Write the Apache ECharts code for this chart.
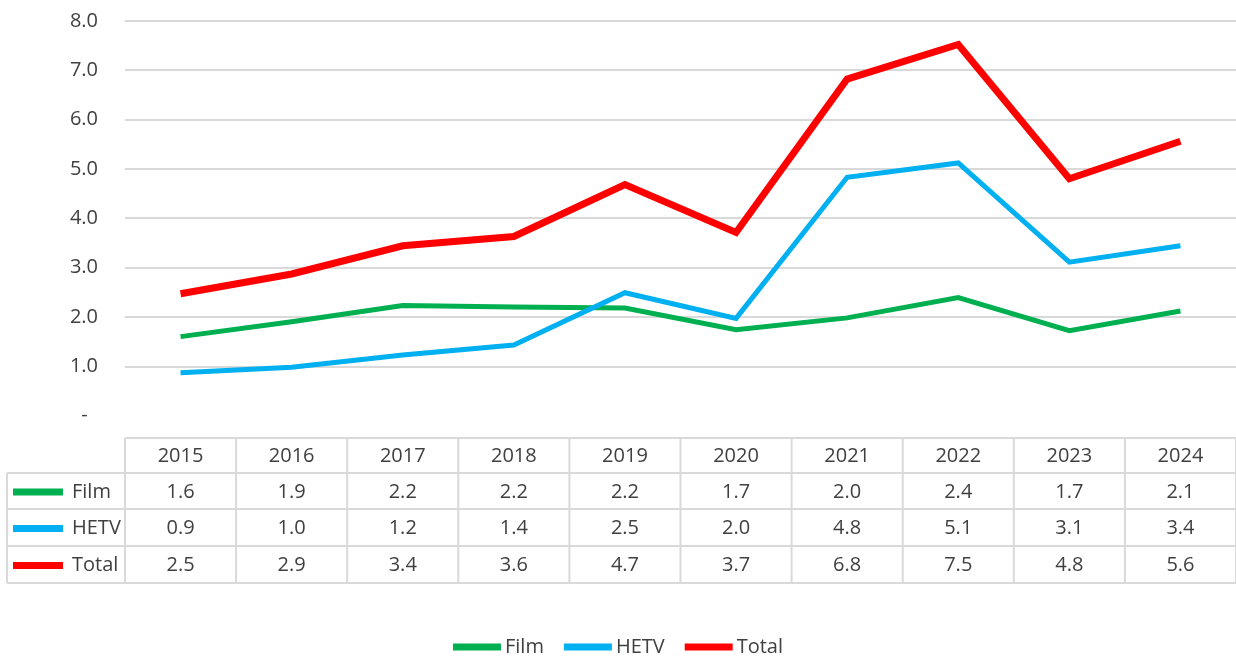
<!DOCTYPE html>
<html>
<head>
<meta charset="utf-8">
<script src="https://cdn.jsdelivr.net/npm/echarts@6/dist/echarts.min.js"></script>
<style>
  html, body { margin: 0; padding: 0; background: #ffffff; }
  #chart { width: 1236px; height: 657px; }
</style>
</head>
<body>
<div id="chart"></div>
<script>
// ---- Data ----
const years = ['2015', '2016', '2017', '2018', '2019', '2020', '2021', '2022', '2023', '2024'];
const film  = [1.60, 1.90, 2.23, 2.20, 2.18, 1.74, 1.98, 2.39, 1.72, 2.12];
const hetv  = [0.87, 0.98, 1.23, 1.43, 2.49, 1.97, 4.83, 5.12, 3.11, 3.44];
const total = [2.47, 2.87, 3.44, 3.63, 4.68, 3.71, 6.82, 7.52, 4.80, 5.56];
const yTicks = [0, 1, 2, 3, 4, 5, 6, 7, 8];

const seriesDefs = [
  { name: 'Film',  data: film,  color: '#00B050', width: 5 },
  { name: 'HETV',  data: hetv,  color: '#00B0F0', width: 5 },
  { name: 'Total', data: total, color: '#FF0000', width: 7 }
];

const FONT = '"Open Sans", "Noto Sans", sans-serif';
const FS = 20;
const TXT = '#404040';
const BORDER = '#d9d9d9';

const chart = echarts.init(document.getElementById('chart'), null, { renderer: 'canvas' });

chart.setOption({
  animation: false,
  backgroundColor: '#ffffff',
  textStyle: { fontFamily: FONT },
  grid: { left: 125, right: 0, top: 20.8, bottom: 241.4, containLabel: false },
  xAxis: {
    type: 'category',
    data: years,
    boundaryGap: true,
    axisLine: { show: false },
    axisTick: { show: false },
    axisLabel: { show: false },
    splitLine: { show: false }
  },
  yAxis: {
    type: 'value',
    min: yTicks[0],
    max: yTicks[yTicks.length - 1],
    interval: 1,
    axisLine: { show: false },
    axisTick: { show: false },
    axisLabel: {
      margin: 27,
      fontSize: FS,
      fontFamily: FONT,
      color: TXT,
      formatter: function (v) { return v === 0 ? '-  ' : v.toFixed(1); }
    },
    splitLine: { show: true, showMinLine: false, lineStyle: { color: BORDER, width: 2 } }
  },
  legend: {
    data: seriesDefs.map(s => s.name),
    left: 'center',
    top: 632,
    icon: 'rect',
    itemWidth: 48,
    itemHeight: 7,
    itemGap: 20,
    textStyle: { fontSize: FS, color: TXT, fontFamily: FONT, padding: [0, 0, 0, -1] }
  },
  series: seriesDefs.map(s => ({
    name: s.name,
    type: 'line',
    data: s.data,
    color: s.color,
    symbol: 'none',
    lineStyle: { color: s.color, width: s.width, join: 'miter' },
    z: s.name === 'Total' ? 3 : 2
  }))
});

// ---- Data table below the plot, columns aligned to the category axis ----
const xs = years.map((y, i) => chart.convertToPixel({ xAxisIndex: 0 }, i));
const band = xs[1] - xs[0];
const tableLeft = 7;
const colLeft = xs[0] - band / 2;
const colRight = xs[xs.length - 1] + band / 2;
const rowY = [438, 473, 509, 546, 583];

const g = [];
function hline(x1, x2, y) {
  g.push({ type: 'line', shape: { x1: x1, y1: y, x2: x2, y2: y }, style: { stroke: BORDER, lineWidth: 2 }, silent: true });
}
function vline(x, y1, y2) {
  g.push({ type: 'line', shape: { x1: x, y1: y1, x2: x, y2: y2 }, style: { stroke: BORDER, lineWidth: 2 }, silent: true });
}
function text(str, x, y, align) {
  g.push({ type: 'text', x: x, y: y, silent: true,
    style: { text: str, fill: TXT, font: FS + 'px ' + FONT, align: align || 'center', verticalAlign: 'middle' } });
}

hline(colLeft, colRight, rowY[0]);
for (let r = 1; r < rowY.length; r++) hline(tableLeft, colRight, rowY[r]);
vline(tableLeft, rowY[1], rowY[4]);
for (let i = 0; i <= years.length; i++) vline(colLeft + i * band, rowY[0], rowY[4]);

years.forEach((y, i) => text(y, xs[i], (rowY[0] + rowY[1]) / 2 + 1));
seriesDefs.forEach((s, r) => {
  const cy = (rowY[r + 1] + rowY[r + 2]) / 2 + 1;
  g.push({ type: 'rect', shape: { x: 13, y: cy - 3.5, width: 50, height: 7 }, style: { fill: s.color }, silent: true });
  text(s.name, 72, cy, 'left');
  s.data.forEach((v, i) => text(v.toFixed(1), xs[i], cy));
});

chart.setOption({ graphic: g });
</script>
</body>
</html>
